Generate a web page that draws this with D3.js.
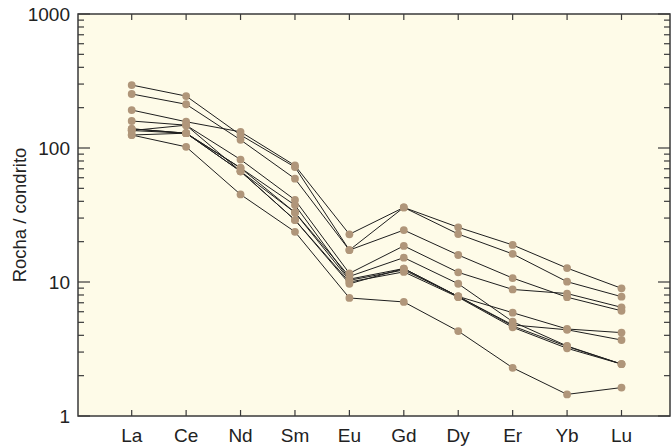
<!DOCTYPE html>
<html>
<head>
<meta charset="utf-8">
<script src="https://cdn.jsdelivr.net/npm/d3@7"></script>
<style>
  body { margin: 0; background: #fff; }
  text { font-family: "Liberation Sans", Arial, sans-serif; fill: #222; }
</style>
</head>
<body>
<svg id="chart" width="671" height="446"></svg>
<script>
// REE elements along the x axis
let elements = ["La", "Ce", "Nd", "Sm", "Eu", "Gd", "Dy", "Er", "Yb", "Lu"];
let yTicks = [1, 10, 100, 1000];

// one array per sample (rock / chondrite)
let s1  = [192, 157, 132, 74, 22.7, 36, 25.6, 18.9, 12.7, 8.97];
let s2  = [295, 244, 125, 72, 17.3, 36, 22.8, 16.2, 10.05, 7.77];
let s3  = [253, 212, 115, 59, 17.3, 24.4, 15.9, 10.7, 7.7, 6.1];
let s4  = [159, 148, 82, 41, 11.6, 18.6, 11.8, 8.8, 8.2, 6.47];
let s5  = [139, 129, 71, 37.5, 10.5, 12.6, 7.8, 5.9, 4.46, 4.19];
let s6  = [135, 148, 67, 33, 11.0, 15.2, 9.7, 5.06, 3.33, 2.44];
let s7  = [125, 129, 71, 33, 10.3, 12.3, 7.8, 4.78, 4.4, 3.69];
let s8  = [139, 129, 67, 29, 10.0, 11.9, 7.7, 4.59, 3.2, 2.44];
let s9  = [125, 102, 45, 23.7, 7.6, 7.1, 4.3, 2.29, 1.45, 1.63];
let s10 = [135, 129, 67, 29, 9.7, 12.6, 7.8, 4.7, 3.3, 2.44];
let samples = [s1, s2, s3, s4, s5, s6, s7, s8, s9, s10];

let svg = d3.select("#chart");
let pLeft = 78, pRight = 670, pTop = 14, pBottom = 416;

// x positions of the elements
let x = d3.scalePoint().domain(elements).range([131.7, 621.5]);
let y = d3.scaleLog().domain([1, 1000]).range([pBottom, pTop]);

// plot background
svg.append("rect")
  .attr("x", pLeft).attr("y", pTop)
  .attr("width", pRight - pLeft).attr("height", pBottom - pTop)
  .attr("fill", "#fefbe8");

// minor + major ticks on left and right (pointing inward)
let minor = [];
for(let d = 1; d < 1000; d *= 10) {
  for(let m = 2; m <= 9; m++) minor.push(d * m);
}
let tickG = svg.append("g").attr("stroke", "#3a3a3a").attr("stroke-width", 1.2);
for(let v of minor) {
  tickG.append("line").attr("x1", pLeft).attr("x2", pLeft + 6).attr("y1", y(v)).attr("y2", y(v));
  tickG.append("line").attr("x1", pRight).attr("x2", pRight - 6).attr("y1", y(v)).attr("y2", y(v));
}
for(let v of yTicks) {
  tickG.append("line").attr("x1", pLeft).attr("x2", pLeft + 12).attr("y1", y(v)).attr("y2", y(v));
  tickG.append("line").attr("x1", pRight).attr("x2", pRight - 12).attr("y1", y(v)).attr("y2", y(v));
}
// category ticks top and bottom
for(let e of elements) {
  tickG.append("line").attr("x1", x(e)).attr("x2", x(e)).attr("y1", pBottom).attr("y2", pBottom - 6);
  tickG.append("line").attr("x1", x(e)).attr("x2", x(e)).attr("y1", pTop).attr("y2", pTop + 6);
}

// frame
svg.append("rect")
  .attr("x", pLeft).attr("y", pTop)
  .attr("width", pRight - pLeft).attr("height", pBottom - pTop)
  .attr("fill", "none").attr("stroke", "#3a3a3a").attr("stroke-width", 1.5);

// tick labels
svg.append("g").selectAll("text").data(yTicks).join("text")
  .attr("x", 70).attr("y", d => y(d))
  .attr("dy", "0.36em")
  .attr("text-anchor", "end")
  .attr("font-size", 19)
  .text(d => d);

svg.append("g").selectAll("text").data(elements).join("text")
  .attr("x", d => x(d)).attr("y", 442)
  .attr("text-anchor", "middle")
  .attr("font-size", 19)
  .text(d => d);

// axis title
svg.append("text")
  .attr("transform", "translate(26," + ((pTop + pBottom) / 2) + ") rotate(-90)")
  .attr("text-anchor", "middle")
  .attr("font-size", 18.5)
  .text("Rocha / condrito");

// lines
let line = d3.line().x((d, i) => x(elements[i])).y(d => y(d));
svg.append("g").selectAll("path").data(samples).join("path")
  .attr("d", line)
  .attr("fill", "none")
  .attr("stroke", "#1e1e1e")
  .attr("stroke-width", 1);

// points
let pts = svg.append("g").attr("fill", "#b0967a");
for(let s of samples) {
  pts.append("g").selectAll("circle").data(s).join("circle")
    .attr("cx", (d, i) => x(elements[i]))
    .attr("cy", d => y(d))
    .attr("r", 3.9);
}
</script>
</body>
</html>
